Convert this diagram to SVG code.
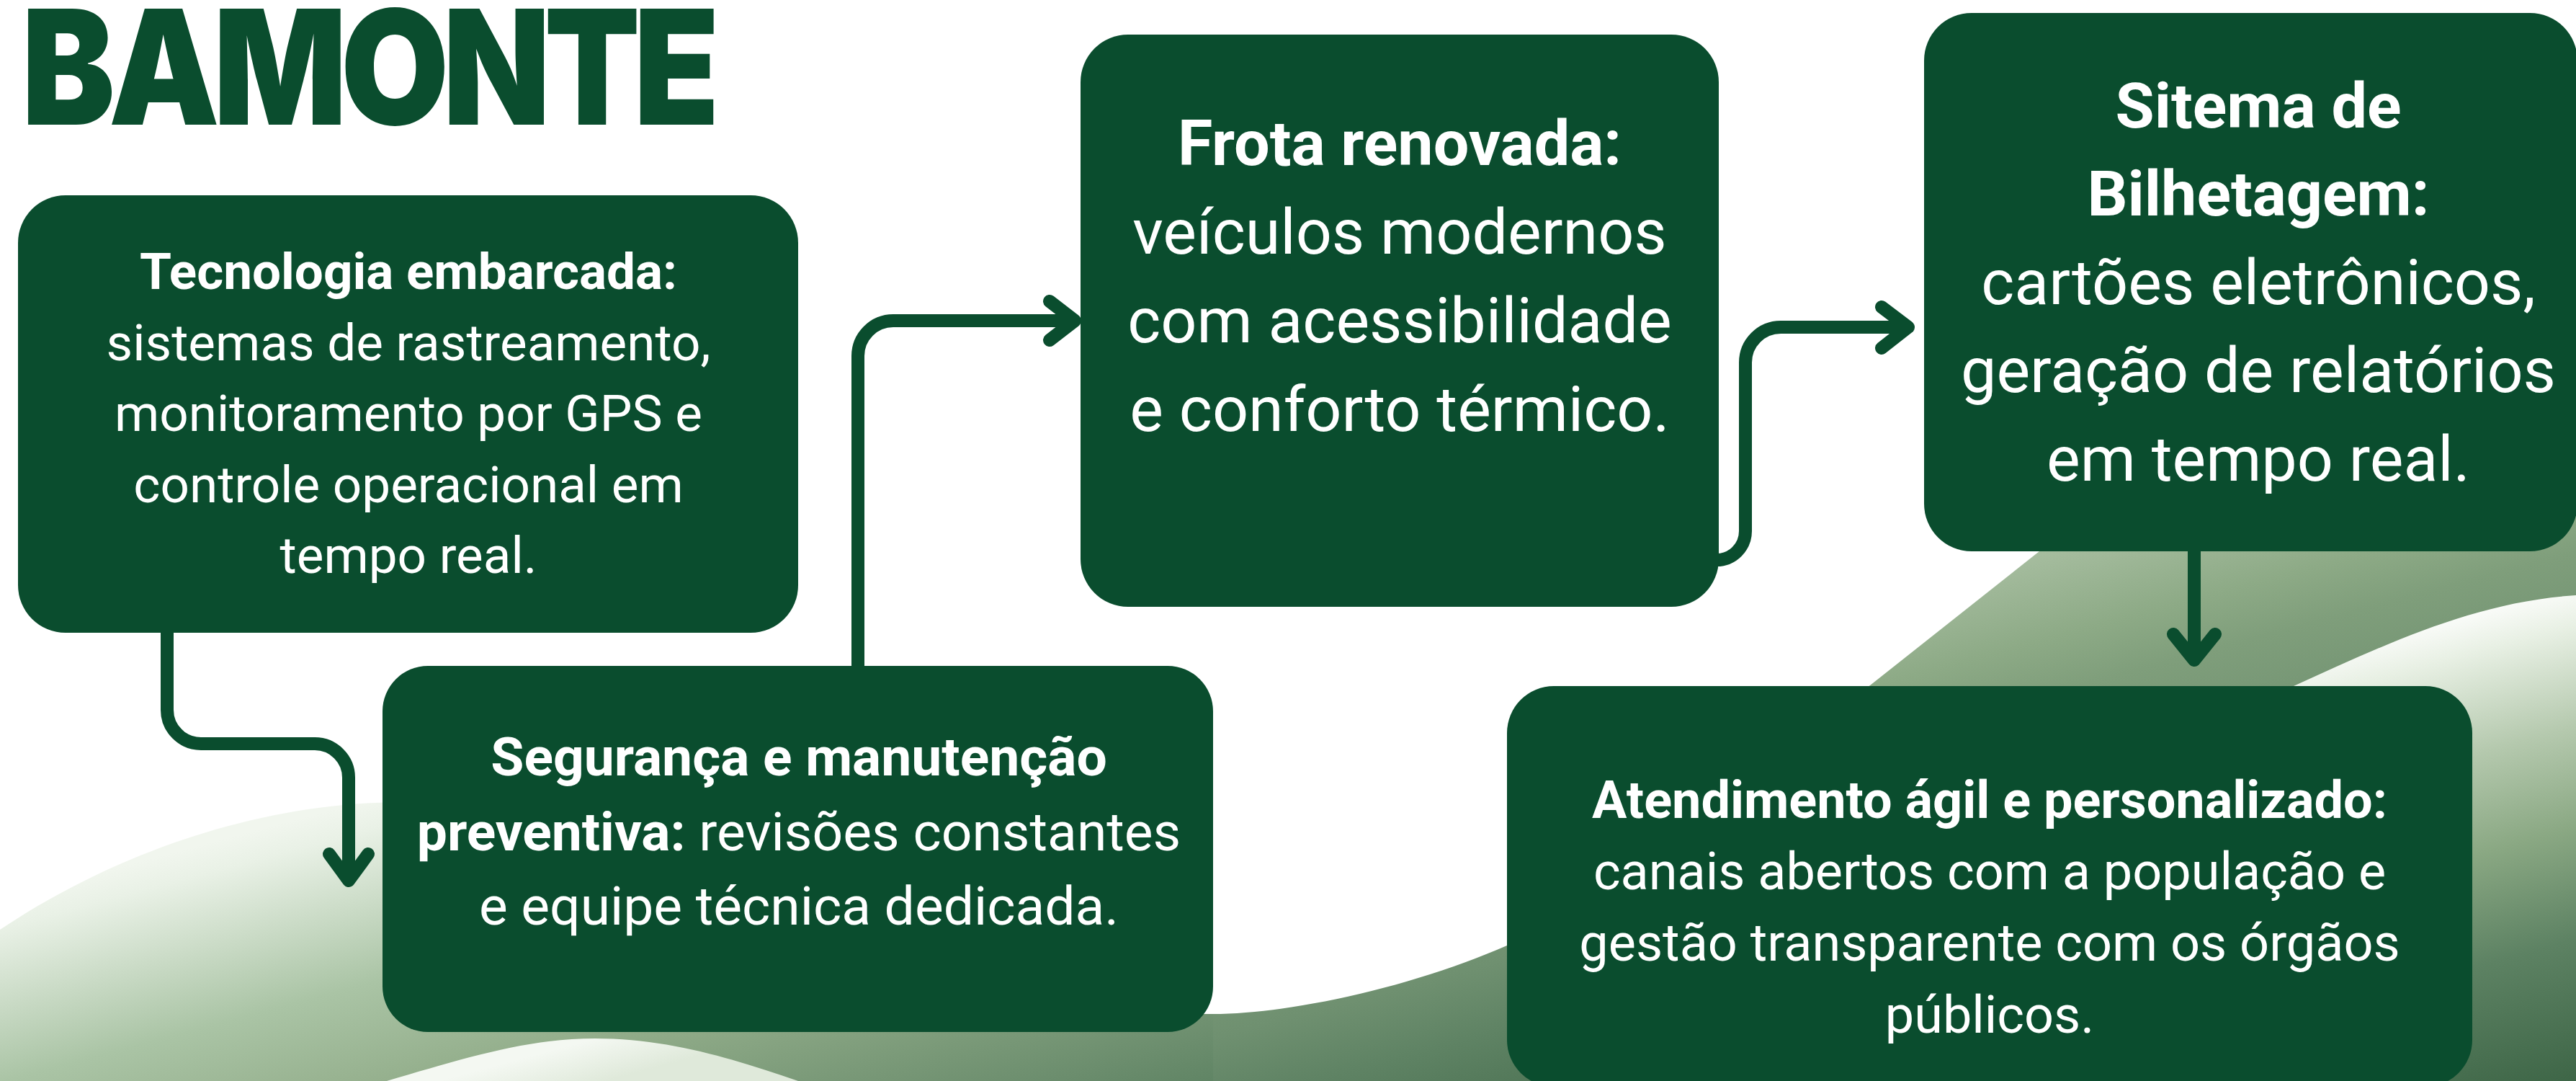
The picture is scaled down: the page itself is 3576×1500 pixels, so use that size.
<svg xmlns="http://www.w3.org/2000/svg" width="3576" height="1500" viewBox="0 0 3576 1500">
<style>
.box{fill:#0a4d2e}
.c{fill:none;stroke:#0a4d2e;stroke-width:18;stroke-linecap:round;stroke-linejoin:round}
text{font-family:Roboto,"Liberation Sans",sans-serif;fill:#fff;text-anchor:middle}
.b{font-weight:700}
.s1{font-size:71px}.s2{font-size:75px}.s3{font-size:88px}.s5{font-size:72px}
</style>
<defs>
<linearGradient id="g1" gradientUnits="userSpaceOnUse" x1="500" y1="1113" x2="760" y2="2083"><stop offset="0" stop-color="#f1f6ee"/><stop offset=".04" stop-color="#e9f1e6"/><stop offset=".245" stop-color="#aac4a5"/><stop offset=".4" stop-color="#92ad8a"/><stop offset=".62" stop-color="#6b8d6d"/><stop offset=".71" stop-color="#5a8060"/><stop offset="1" stop-color="#2f5a3c"/></linearGradient>
<linearGradient id="g2" gradientUnits="userSpaceOnUse" x1="2900" y1="700" x2="3082" y2="1379"><stop offset="0" stop-color="#b0c5a9"/><stop offset=".064" stop-color="#a6bd9f"/><stop offset=".235" stop-color="#8daa86"/><stop offset=".34" stop-color="#7f9e7b"/><stop offset=".57" stop-color="#6f9070"/><stop offset=".7" stop-color="#5f8364"/><stop offset="1" stop-color="#3e6647"/></linearGradient>
<linearGradient id="g3" gradientUnits="userSpaceOnUse" x1="3450" y1="830" x2="3626" y2="1487"><stop offset="0" stop-color="#fff"/><stop offset=".1" stop-color="#e8f0e4"/><stop offset=".3" stop-color="#b5c9ae"/><stop offset=".5" stop-color="#8aa883"/><stop offset=".72" stop-color="#5d8263"/><stop offset="1" stop-color="#3e6647"/></linearGradient>
<linearGradient id="g4" gradientUnits="userSpaceOnUse" x1="826" y1="1441" x2="842" y2="1500"><stop offset="0" stop-color="#f4f8f2"/><stop offset="1" stop-color="#dfe9da"/></linearGradient>
</defs>
<g id="background">
<path d="M0 1290C150 1190 350 1113 560 1113C900 1113 1180 1407 1684 1407V1500H0Z" fill="url(#g1)"/>
<path d="M1684 1407C1790 1407 1960 1370 2092 1312L2596 951L2831 765L3000 640H3576V1500H1684Z" fill="url(#g2)"/>
<path d="M3184 952C3300 900 3430 835 3576 826V1500H3000V1100Z" fill="url(#g3)"/>
<path d="M537 1500C640 1470 730 1441 826 1441C930 1441 1020 1470 1108 1500Z" fill="url(#g4)"/>
</g>
<text id="logo" x="30" y="173" textLength="960" lengthAdjust="spacingAndGlyphs" style="font-family:Inter,sans-serif;font-weight:900;font-size:221px;letter-spacing:-10px;fill:#0a4d2e;text-anchor:start">BAMONTE</text>
<g id="connectors">
<path class="c" d="M232 878V985A47 47 0 0 0 279 1032H437A47 47 0 0 1 484 1079V1222M457 1185L484 1222L511 1185"/>
<path class="c" d="M1191 924V494A49 49 0 0 1 1240 445H1492M1457 418L1492 445L1457 472"/>
<path class="c" d="M2378 777H2383A40 40 0 0 0 2423 737V503A49 49 0 0 1 2472 454H2649M2612 426L2649 454L2612 483"/>
<path class="c" d="M3046 765V916M3017 880L3046 916L3075 880"/>
</g>
<g id="n1"><rect class="box" x="25" y="271" width="1083" height="607" rx="66"/>
<text class="s1"><tspan class="b" x="567" y="401">Tecnologia embarcada:</tspan><tspan x="567" y="500">sistemas de rastreamento,</tspan><tspan x="567" y="598">monitoramento por GPS e</tspan><tspan x="567" y="697">controle operacional em</tspan><tspan x="567" y="795">tempo real.</tspan></text></g>
<g id="n2"><rect class="box" x="531" y="924" width="1153" height="508" rx="63"/>
<text class="s2"><tspan class="b" x="1109" y="1076">Segurança e manutenção</tspan><tspan x="1109" y="1180"><tspan class="b">preventiva:</tspan> revisões constantes</tspan><tspan x="1109" y="1283">e equipe técnica dedicada.</tspan></text></g>
<g id="n3"><rect class="box" x="1500" y="48" width="886" height="794" rx="66"/>
<text class="s3"><tspan class="b" x="1943" y="229">Frota renovada:</tspan><tspan x="1943" y="352">veículos modernos</tspan><tspan x="1943" y="475">com acessibilidade</tspan><tspan x="1943" y="598">e conforto térmico.</tspan></text></g>
<g id="n4"><rect class="box" x="2671" y="18" width="907" height="747" rx="66"/>
<text class="s3"><tspan class="b" x="3135" y="177">Sitema de</tspan><tspan class="b" x="3135" y="299">Bilhetagem:</tspan><tspan x="3135" y="422">cartões eletrônicos,</tspan><tspan x="3135" y="544">geração de relatórios</tspan><tspan x="3135" y="667">em tempo real.</tspan></text></g>
<g id="n5"><rect class="box" x="2092" y="952" width="1340" height="556" rx="65"/>
<text class="s5"><tspan class="b" x="2762" y="1135">Atendimento ágil e personalizado:</tspan><tspan x="2762" y="1234">canais abertos com a população e</tspan><tspan x="2762" y="1333">gestão transparente com os órgãos</tspan><tspan x="2762" y="1433">públicos.</tspan></text></g>
</svg>
